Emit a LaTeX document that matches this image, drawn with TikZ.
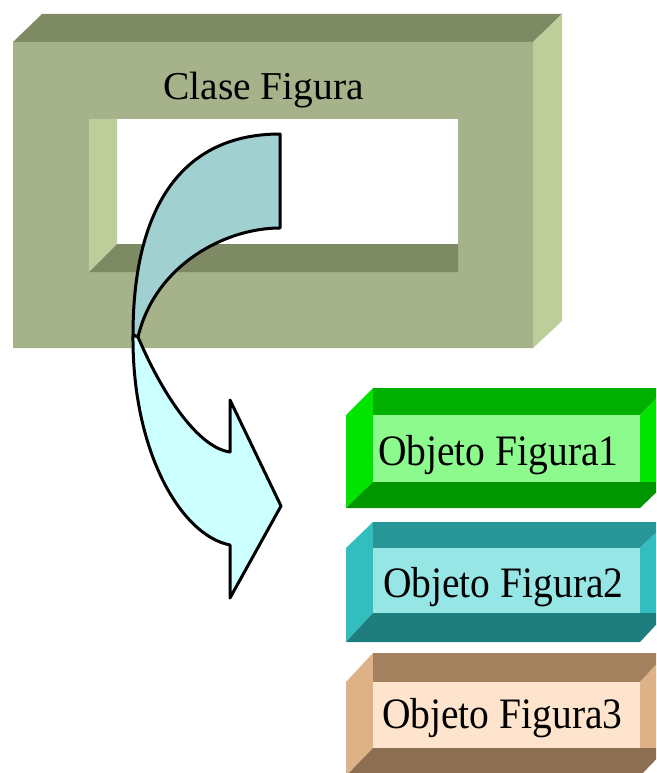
\documentclass[tikz,border=0pt]{standalone}
\usepackage{fontspec}
\setmainfont{Liberation Serif}
\definecolor{frontC}{RGB}{166,178,138}
\definecolor{topC}{RGB}{126,138,100}
\definecolor{sideC}{RGB}{190,206,155}
\definecolor{arrDark}{RGB}{160,208,208}
\definecolor{arrLight}{RGB}{204,255,255}
\definecolor{gTop}{RGB}{0,176,0}
\definecolor{gSide}{RGB}{0,228,0}
\definecolor{gIn}{RGB}{140,250,140}
\definecolor{gBot}{RGB}{0,150,0}
\definecolor{tTop}{RGB}{38,150,150}
\definecolor{tSide}{RGB}{50,190,190}
\definecolor{tIn}{RGB}{150,230,230}
\definecolor{tBot}{RGB}{30,125,125}
\definecolor{bTop}{RGB}{165,130,95}
\definecolor{bSide}{RGB}{222,178,135}
\definecolor{bIn}{RGB}{255,228,205}
\definecolor{bBot}{RGB}{140,110,80}
\tikzset{
  lbl/.style={inner sep=0pt, anchor=base west, font=\fontsize{39.5}{44}\selectfont},
  arrowpart/.style={draw=black, line width=3pt, line join=round},
}
% bevel box: #1 top y, #2 inner top, #3 inner bottom, #4 bottom, #5 top col, #6 side col, #7 inner col, #8 bottom col
\newcommand{\bevelbox}[8]{%
  \fill[#6] (346,#2) -- (373,#1) -- (373,#3) -- (346,#4) -- cycle;
  \fill[#5] (373,#1) -- (667,#1) -- (640,#2) -- (373,#2) -- cycle;
  \fill[#6] (640,#2) -- (667,#1) -- (667,#3) -- (640,#3) -- cycle;
  \fill[#8] (346,#4) -- (373,#3) -- (667,#3) -- (640,#4) -- cycle;
  \fill[#7] (373,#2) rectangle (640,#3);
}
\begin{document}
\begin{tikzpicture}[x=1pt,y=-1pt]
\useasboundingbox (0,0) rectangle (656,773);
\clip (0,0) rectangle (656,773);
% frame
\fill[topC] (13,42) -- (42,14) -- (562,14) -- (533,42) -- cycle;
\fill[sideC] (533,42) -- (562,14) -- (562,321) -- (533,348) -- cycle;
\fill[frontC, even odd rule] (13,42) rectangle (533,348) (89,119) rectangle (458,272);
\fill[sideC] (89,119) -- (117,119) -- (117,244) -- (89,272) -- cycle;
\fill[topC] (89,272) -- (117,244) -- (458,244) -- (458,272) -- cycle;
\node[lbl] (clase) at (163,100) {Clase Figura};
% curved arrow
\coordinate (tailTop) at (280,134);
\coordinate (tailBot) at (280,228);
\coordinate (crossOut) at (133,335);
\coordinate (crossIn) at (138,337);
\coordinate (headTop) at (230,400);
\coordinate (headIn) at (230,452);
\coordinate (tip) at (281,506);
\coordinate (headOut) at (230,545);
\coordinate (headBot) at (230,598);
\path[arrowpart, fill=arrDark] (tailTop) .. controls (180,134) and (133,210) .. (crossOut)
   -- (crossIn) .. controls (155,265) and (225,228) .. (tailBot) -- cycle;
\path[arrowpart, fill=arrLight] (crossOut) .. controls (132,450) and (180,535) .. (headOut)
   -- (headBot) -- (tip) -- (headTop) -- (headIn)
   .. controls (200,448) and (165,400) .. (crossIn) -- cycle;
% object boxes
\bevelbox{388}{415}{482}{508}{gTop}{gSide}{gIn}{gBot}
\bevelbox{522}{548}{613}{642}{tTop}{tSide}{tIn}{tBot}
\bevelbox{653}{682}{748}{776}{bTop}{bSide}{bIn}{bBot}
\node[lbl] (obj1) at (378,465) {\scalebox{1}[1.1]{Objeto Figura1}};
\node[lbl] (obj2) at (383,597) {\scalebox{1}[1.1]{Objeto Figura2}};
\node[lbl] (obj3) at (382,728) {\scalebox{1}[1.1]{Objeto Figura3}};
\end{tikzpicture}
\end{document}
